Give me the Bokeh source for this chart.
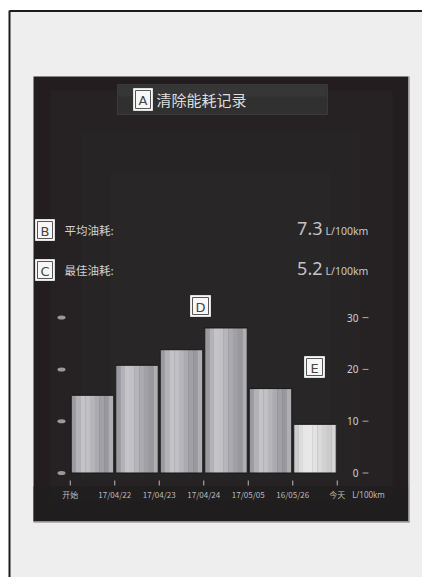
from bokeh.plotting import figure
from bokeh.models import Range1d
from bokeh.core.properties import value
from bokeh.embed import file_html
from bokeh.resources import INLINE

# ---------------- data ----------------
x_labels = ["开始", "17/04/22", "17/04/23", "17/04/24", "17/05/05", "16/05/26", "今天"]
consumption = [15.0, 20.8, 23.8, 28.0, 16.3, 9.4]
y_ticks = [0, 10, 20, 30]
unit_label = "L/100km"
title_text = "清除能耗记录"
avg_label = "平均油耗:"
avg_value = "7.3"
best_label = "最佳油耗:"
best_value = "5.2"

# ---------------- layout constants (page pixels) ----------------
W, H = 422, 577
OX, OY = 0, 0
BAR0_X = 92.0      # page x of first bar centre
BAR_STEP = 44.5    # page px per category
ZERO_Y = 472.5     # page y of value 0
PX_PER_UNIT = 5.18 # page px per 1 L/100km

CJK = value("Noto Sans CJK SC")
LAT = value("Noto Sans")

p = figure(width=W, height=H, output_backend="svg", toolbar_location=None,
           x_range=Range1d(OX, OX + W), y_range=Range1d(OY + H, OY),
           x_axis_location=None, y_axis_location=None, min_border=0,
           background_fill_color="white", border_fill_color="white",
           outline_line_color=None)
p.grid.visible = False
p.extra_x_ranges = {"bars": Range1d((OX - BAR0_X) / BAR_STEP, (OX + W - BAR0_X) / BAR_STEP)}
p.extra_y_ranges = {"vals": Range1d((ZERO_Y - (OY + H)) / PX_PER_UNIT, (ZERO_Y - OY) / PX_PER_UNIT)}

# ---- page frame ----
p.quad(left=[9], right=[430], top=[10], bottom=[580], fill_color="#eeeeee", line_color=None)
p.segment(x0=[9, 9], y0=[10.5, 10], x1=[430, 9], y1=[10.5, 580], line_color="#1c1c1c", line_width=2)

# ---- dark panel ----
p.quad(left=[33], right=[408], top=[76], bottom=[521], fill_color="#241d20", line_color=None)
p.quad(left=[50, 80, 110], right=[392, 360, 330], top=[90, 130, 170], bottom=[500, 480, 460],
       fill_color="#2c2b2b", fill_alpha=0.35, line_color=None)
p.quad(left=[33], right=[408], top=[486], bottom=[521], fill_color="#1f1e1e", fill_alpha=0.8, line_color=None)
p.segment(x0=[408.5, 33], y0=[76, 521.5], x1=[408.5, 409], y1=[522, 521.5], line_color="#a0a0a0", line_width=1.5)

# ---- header bar ----
p.quad(left=[117], right=[327], top=[84], bottom=[114], fill_color="#303030", line_color="#3a3a3a")
p.quad(left=[118], right=[326], top=[85], bottom=[96], fill_color="#3c3c3c", fill_alpha=0.5, line_color=None)

# ---- callout boxes ----
boxes = [("A", 133, 152, 88, 110), ("B", 35, 54, 219, 240), ("C", 35, 54, 259, 280),
         ("D", 190, 210, 295, 316), ("E", 304, 324, 356, 377)]
p.quad(left=[b[1] for b in boxes], right=[b[2] for b in boxes], top=[b[3] for b in boxes],
       bottom=[b[4] for b in boxes], fill_color="#f7f7f7", line_color="#e0e0e0", line_width=1)
p.quad(left=[b[1] + 2 for b in boxes], right=[b[2] - 2 for b in boxes], top=[b[3] + 2 for b in boxes],
       bottom=[b[4] - 2 for b in boxes], fill_color=None, line_color="#555555", line_width=1)
p.text(x=[(b[1] + b[2]) / 2 for b in boxes], y=[(b[3] + b[4]) / 2 + 1 for b in boxes],
       text=[b[0] for b in boxes], text_font=value("DejaVu Sans"), text_font_size="13px",
       text_color="#444444", text_align="center", text_baseline="middle")

# ---- texts ----
p.text(x=[156], y=[99], text=[title_text], text_font=CJK, text_font_size="15px",
       text_color="#dedede", text_align="left", text_baseline="middle")
p.text(x=[64, 64], y=[229, 269], text=[avg_label, best_label], text_font=CJK, text_font_size="11.5px",
       text_color="#d2d2d2", text_align="left", text_baseline="middle")
p.text(x=[322, 322], y=[228, 268], text=[avg_value, best_value], text_font=LAT, text_font_size="18px",
       text_color="#c4c4c4", text_align="right", text_baseline="middle")
p.text(x=[325, 325], y=[230, 270], text=[unit_label, unit_label], text_font=LAT, text_font_size="10.5px",
       text_color="#c8c8c8", text_align="left", text_baseline="middle")

# ---- bars (cylindrical shading by strips) ----
bw = 0.955
n = 9
shade = ["#9a9aa0", "#b2b2b8", "#c3c3c8", "#c0c0c5", "#b5b5bb", "#aaaab0", "#a0a0a6", "#98989e", "#aeaeb3"]
shade_last = ["#cdcdcd", "#dcdcdc", "#e6e6e6", "#e8e8e8", "#e2e2e2", "#dadada", "#d2d2d2", "#cbcbcb", "#d6d6d6"]
xs, tops, cols = [], [], []
for i, v in enumerate(consumption):
    pal = shade_last if i == len(consumption) - 1 else shade
    for k in range(n):
        xs.append(i - bw / 2 + (k + 0.5) * bw / n)
        tops.append(v)
        cols.append(pal[k])
p.vbar(x=xs, top=tops, bottom=0, width=bw / n * 1.08, fill_color=cols, line_color=None,
       x_range_name="bars", y_range_name="vals")
p.vbar(x=list(range(len(consumption))), top=consumption, bottom=0, width=bw, fill_color=None,
       line_color="#161616", line_width=1, x_range_name="bars", y_range_name="vals")

# ---- y ticks (right labels, left markers) ----
p.text(x=[358] * len(y_ticks), y=y_ticks, text=[str(t) for t in y_ticks], text_font=LAT,
       text_font_size="10px", text_color="#d0d0d0", text_align="right", text_baseline="middle",
       y_range_name="vals")
p.segment(x0=[362] * len(y_ticks), x1=[368] * len(y_ticks), y0=y_ticks, y1=y_ticks,
          line_color="#aaaaaa", line_width=1, y_range_name="vals")
p.ellipse(x=[61] * len(y_ticks), y=y_ticks, width=8, height=4, width_units="screen", height_units="screen",
          fill_color="#9a9a9a", line_color=None, y_range_name="vals")

# ---- x ticks and labels ----
tick_x = [i - 0.5 for i in range(len(x_labels))]
p.segment(x0=tick_x, x1=tick_x, y0=[480] * len(tick_x), y1=[485] * len(tick_x),
          line_color="#bbbbbb", line_width=1, x_range_name="bars")
p.text(x=tick_x, y=[494] * len(tick_x), text=x_labels, text_font=CJK, text_font_size="8px",
       text_color="#bdbdbd", text_align="center", text_baseline="middle", x_range_name="bars")
p.text(x=[368], y=[494], text=[unit_label], text_font=LAT, text_font_size="8px",
       text_color="#bdbdbd", text_align="center", text_baseline="middle")

open("out.html", "w").write(file_html(p, INLINE))
